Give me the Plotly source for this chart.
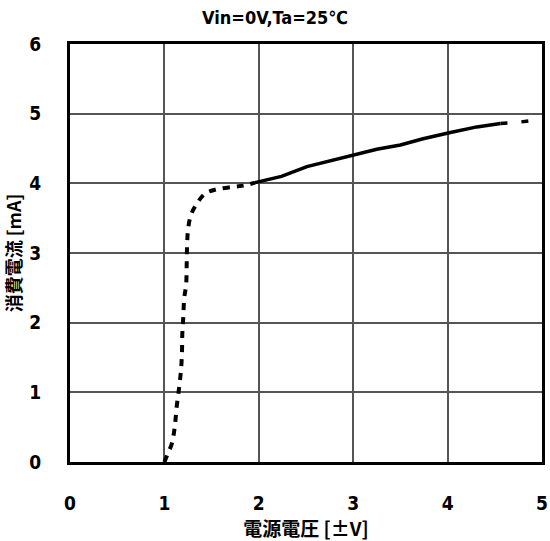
import plotly.graph_objects as go

# Dotted section (low-voltage region)
x_dot = [1.00, 1.03, 1.08, 1.11, 1.13, 1.155, 1.176, 1.186, 1.19, 1.20, 1.21, 1.23, 1.236, 1.24, 1.25, 1.28, 1.34, 1.43, 1.54, 1.73, 1.85, 1.96]
y_dot = [0.00, 0.10, 0.27, 0.51, 0.79, 1.06, 1.32, 1.57, 1.85, 2.08, 2.35, 2.54, 2.83, 3.09, 3.33, 3.54, 3.70, 3.85, 3.91, 3.95, 3.97, 4.01]

# Solid section
x_solid = [1.96, 2.24, 2.51, 2.75, 3.00, 3.25, 3.50, 3.74, 4.03, 4.31, 4.56]
y_solid = [4.01, 4.10, 4.24, 4.32, 4.40, 4.49, 4.55, 4.64, 4.73, 4.81, 4.86]

# Dashed tail
x_tail = [4.56, 4.77, 5.00]
y_tail = [4.86, 4.88, 4.92]

x_ticks = [0, 1, 2, 3, 4, 5]
y_ticks = [0, 1, 2, 3, 4, 5, 6]

fig = go.Figure()
fig.add_trace(go.Scatter(x=x_dot, y=y_dot, mode="lines",
                         line=dict(color="black", width=4, dash="7px,7px"),
                         line_shape="spline", showlegend=False, cliponaxis=False))
fig.add_trace(go.Scatter(x=x_solid, y=y_solid, mode="lines",
                         line=dict(color="black", width=3.5),
                         showlegend=False))
fig.add_trace(go.Scatter(x=x_tail, y=y_tail, mode="lines",
                         line=dict(color="black", width=3.5, dash="7px,14px"),
                         showlegend=False))

tick_font = dict(family="DejaVu Sans Condensed, Liberation Sans Narrow, Arial", size=19, color="black")
cjk = "Noto Sans CJK JP"

fig.update_layout(
    width=550, height=541,
    margin=dict(l=70, r=8, t=44, b=79),
    paper_bgcolor="white", plot_bgcolor="white",
    title=dict(text="<b>Vin=0V,Ta=25℃</b>", x=0.5, xref="container",
               xanchor="center", y=0.968, yanchor="middle",
               font=dict(family="DejaVu Sans Condensed, " + cjk, size=18, color="black")),
    xaxis=dict(range=[0, 5], tickvals=x_ticks, ticktext=[f"<b>{v}</b>" for v in x_ticks],
               tickfont=tick_font, ticks="", ticklabelstandoff=22, automargin=False,
               showgrid=True, gridcolor="#555555", gridwidth=1.5,
               showline=True, linecolor="black", linewidth=3, mirror=True,
               zeroline=False,
               title=dict(text="<b>電源電圧 [±V]</b>", standoff=6,
                          font=dict(family=cjk, size=19, color="black"))),
    yaxis=dict(range=[0, 6], tickvals=y_ticks, ticktext=[f"<b>{v}</b>" for v in y_ticks],
               tickfont=tick_font, ticks="", ticklabelstandoff=22, automargin=False,
               showgrid=True, gridcolor="#555555", gridwidth=1.5,
               showline=True, linecolor="black", linewidth=3, mirror=True,
               zeroline=False,
               title=dict(text="<b>消費電流 [mA]</b>", standoff=4,
                          font=dict(family=cjk, size=18, color="black"))),
)

fig.write_html("out.html")
